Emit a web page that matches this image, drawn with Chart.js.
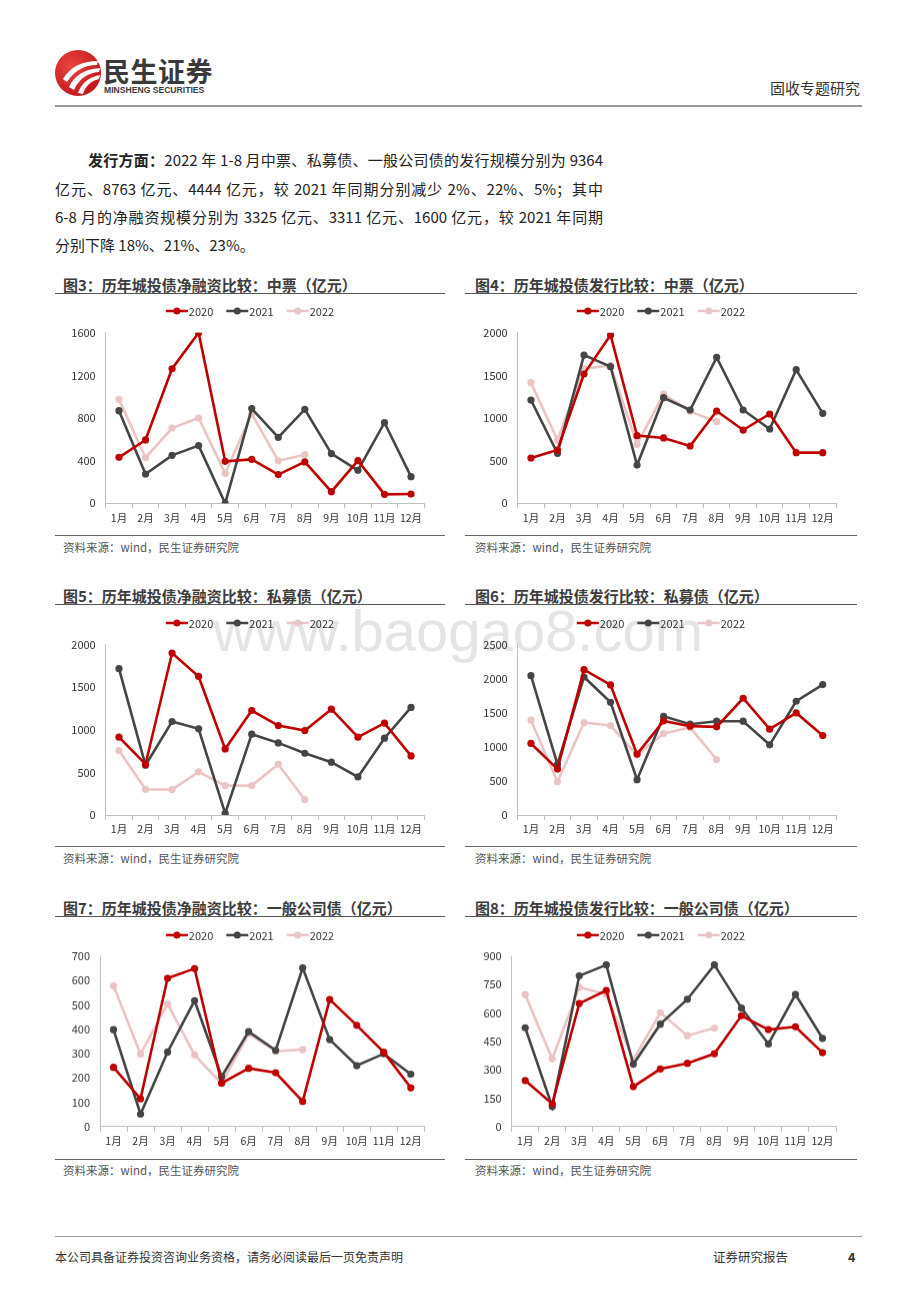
<!DOCTYPE html>
<html><head><meta charset="utf-8">
<script src="https://cdn.jsdelivr.net/npm/chart.js@4.4.1/dist/chart.umd.min.js"></script>
<style>
html,body{margin:0;padding:0;background:#fff;}
body{width:920px;height:1302px;position:relative;overflow:hidden;font-family:"Noto Sans CJK SC","Noto Sans",sans-serif;color:#333;}
.a{position:absolute;white-space:nowrap;}
.para{position:absolute;font-size:15px;line-height:20px;color:#222;white-space:nowrap;}
.just{text-align:justify;text-align-last:justify;}
.ttl{position:absolute;font-size:15px;font-weight:bold;color:#3c3c3c;line-height:20px;white-space:nowrap;}
.src{position:absolute;font-size:11.5px;color:#555;line-height:14px;white-space:nowrap;}
.hl{position:absolute;height:0;}
canvas{position:absolute;}
</style></head>
<body>
<script>
// ---------- DATA ----------
const months = ['1月','2月','3月','4月','5月','6月','7月','8月','9月','10月','11月','12月'];
const years = ['2020','2021','2022'];

const mtnNet2020 = [431, 594, 1262, 1600, 394, 412, 269, 388, 109, 400, 84, 87];
const mtnNet2021 = [869, 275, 450, 541, 0, 888, 619, 881, 466, 309, 756, 250];
const mtnNet2022 = [975, 428, 706, 800, 281, 838, 400, 456];
const mtnNetTicks = [0, 400, 800, 1200, 1600];

const mtnIss2020 = [531, 625, 1516, 1973, 793, 766, 672, 1082, 859, 1047, 594, 594];
const mtnIss2021 = [1211, 586, 1738, 1602, 449, 1238, 1094, 1711, 1094, 871, 1566, 1055];
const mtnIss2022 = [1414, 742, 1578, 1617, 691, 1281, 1078, 957];
const mtnIssTicks = [0, 500, 1000, 1500, 2000];

const ppnNet2020 = [914, 596, 1902, 1627, 776, 1227, 1051, 992, 1243, 914, 1078, 694];
const ppnNet2021 = [1718, 584, 1098, 1012, 20, 949, 847, 725, 620, 447, 902, 1263];
const ppnNet2022 = [757, 302, 298, 506, 345, 345, 596, 180];
const ppnNetTicks = [0, 500, 1000, 1500, 2000];

const ppnIss2020 = [1050, 674, 2134, 1909, 894, 1382, 1304, 1294, 1714, 1260, 1499, 1167];
const ppnIss2021 = [2046, 742, 2026, 1655, 518, 1450, 1333, 1377, 1377, 1030, 1670, 1914];
const ppnIss2022 = [1392, 488, 1357, 1313, 879, 1196, 1284, 815];
const ppnIssTicks = [0, 500, 1000, 1500, 2000, 2500];

const corpNet2020 = [243, 114, 609, 649, 178, 239, 221, 103, 522, 416, 305, 159];
const corpNet2021 = [398, 51, 306, 517, 205, 390, 313, 652, 357, 250, 299, 215];
const corpNet2022 = [578, 298, 504, 294, 177, 382, 309, 316];
const corpNetTicks = [0, 100, 200, 300, 400, 500, 600, 700];

const corpIss2020 = [243, 120, 650, 719, 211, 304, 334, 385, 585, 512, 527, 390];
const corpIss2021 = [522, 105, 796, 854, 329, 541, 672, 854, 626, 436, 698, 466];
const corpIss2022 = [696, 357, 735, 698, 352, 601, 480, 520];
const corpIssTicks = [0, 150, 300, 450, 600, 750, 900];

const titles = [
  '图3：历年城投债净融资比较：中票（亿元）',
  '图4：历年城投债发行比较：中票（亿元）',
  '图5：历年城投债净融资比较：私募债（亿元）',
  '图6：历年城投债发行比较：私募债（亿元）',
  '图7：历年城投债净融资比较：一般公司债（亿元）',
  '图8：历年城投债发行比较：一般公司债（亿元）'
];
const sourceText = '资料来源：wind，民生证券研究院';
</script>

<!-- header -->
<svg class="a" style="left:54px;top:49px" width="50" height="50" viewBox="0 0 50 50">
  <defs><radialGradient id="lg" cx="35%" cy="35%" r="70%"><stop offset="0" stop-color="#e8443f"/><stop offset="1" stop-color="#c4161c"/></radialGradient></defs>
  <circle cx="24" cy="24" r="23" fill="url(#lg)"/>
  <path d="M9 30 C 16 18, 28 12, 44 12 L 43 16 C 30 16, 20 22, 13 33 Z" fill="#fff"/>
  <path d="M15 38 C 20 27, 30 20, 46 19 L 45 23 C 33 24, 25 30, 20 41 Z" fill="#fff"/>
  <path d="M24 44 C 27 35, 34 28, 46 26 L 45 30 C 36 32, 31 38, 29 45 Z" fill="#fff"/>
</svg>
<div class="a" style="left:103px;top:54px;font-size:27px;font-weight:bold;color:#3a3a3a;line-height:34px;letter-spacing:0.5px">民生证券</div>
<div class="a" style="left:104px;top:84px;font-family:'Liberation Sans',Arial,sans-serif;font-size:8.6px;font-weight:bold;color:#3a3a3a;line-height:12px;">MINSHENG SECURITIES</div>
<div class="a" style="left:770px;top:78px;font-size:15px;color:#333;line-height:20px">固收专题研究</div>
<div class="hl" style="left:55px;top:105px;width:807px;border-top:2px solid #999"></div>

<!-- paragraph -->
<div class="para just" style="left:88px;top:150px;width:515px"><b>发行方面：</b>2022 年 1-8 月中票、私募债、一般公司债的发行规模分别为 9364</div>
<div class="para just" style="left:55px;top:179px;width:548px">亿元、8763 亿元、4444 亿元，较 2021 年同期分别减少 2%、22%、5%；其中</div>
<div class="para just" style="left:55px;top:207px;width:548px">6-8 月的净融资规模分别为 3325 亿元、3311 亿元、1600 亿元，较 2021 年同期</div>
<div class="para" style="left:55px;top:235px;">分别下降 18%、21%、23%。</div>

<!-- watermark -->
<div class="a" style="left:213px;top:598px;font-family:'Liberation Sans',Arial,sans-serif;font-size:58px;color:#e4e4e4;line-height:66px;">www.baogao8.com</div>

<!-- footer -->
<div class="hl" style="left:55px;top:1236px;width:807px;border-top:1.5px solid #999"></div>
<div class="a" style="left:55px;top:1249px;font-size:12px;color:#333;line-height:16px">本公司具备证券投资咨询业务资格，请务必阅读最后一页免责声明</div>
<div class="a" style="left:713px;top:1249px;font-size:12.5px;color:#333;line-height:16px">证券研究报告</div>
<div class="a" style="left:848px;top:1249px;font-size:12.5px;font-weight:bold;color:#333;line-height:16px">4</div>

<script>
const COLORS = ['#c00000', '#454545', '#ebc4c4'];
const FONT = '"Noto Sans CJK SC","Noto Sans",sans-serif';

const rows = [
  {title:285, tline:294, legend:311, top:332.7, bottom:503.3, sline:536, stext:547},
  {title:596, tline:605, legend:623, top:644.7, bottom:815, sline:847, stext:858},
  {title:908, tline:917, legend:935, top:956, bottom:1126.3, sline:1159.7, stext:1170}
];
const cols = [
  {cl:55, cr:445, tx:63},
  {cl:465, cr:857, tx:475}
];
const charts = [
  {row:0,col:0, pl:105.7, pr:424.3, s:[mtnNet2020, mtnNet2021, mtnNet2022], ticks:mtnNetTicks},
  {row:0,col:1, pl:517.7, pr:836,   s:[mtnIss2020, mtnIss2021, mtnIss2022], ticks:mtnIssTicks},
  {row:1,col:0, pl:105.7, pr:424.3, s:[ppnNet2020, ppnNet2021, ppnNet2022], ticks:ppnNetTicks},
  {row:1,col:1, pl:517.7, pr:836,   s:[ppnIss2020, ppnIss2021, ppnIss2022], ticks:ppnIssTicks},
  {row:2,col:0, pl:100,   pr:424.3, s:[corpNet2020, corpNet2021, corpNet2022], ticks:corpNetTicks},
  {row:2,col:1, pl:511.7, pr:836,   s:[corpIss2020, corpIss2021, corpIss2022], ticks:corpIssTicks}
];

const legendPlugin = {
  id: 'lineDotLegend',
  afterDraw(chart, args, opts) {
    const ctx = chart.ctx;
    const ds = chart.data.datasets;
    ctx.save();
    ctx.font = '11px ' + FONT;
    const lineW = 22, textGap = 1, itemGap = 13;
    const widths = ds.map(d => lineW + textGap + ctx.measureText(d.label).width);
    const total = widths.reduce((a, b) => a + b, 0) + itemGap * (ds.length - 1);
    let x = (chart.width - total) / 2;
    const y = opts.y;
    ds.forEach((d, i) => {
      ctx.strokeStyle = d.borderColor;
      ctx.lineWidth = 2.5;
      ctx.beginPath(); ctx.moveTo(x, y); ctx.lineTo(x + lineW, y); ctx.stroke();
      ctx.fillStyle = d.borderColor;
      ctx.beginPath(); ctx.arc(x + lineW / 2, y, 3.5, 0, Math.PI * 2); ctx.fill();
      ctx.fillStyle = '#333';
      ctx.textBaseline = 'middle';
      ctx.textAlign = 'left';
      ctx.fillText(d.label, x + lineW + textGap, y + 0.5);
      x += widths[i] + itemGap;
    });
    ctx.restore();
  }
};

charts.forEach((c, idx) => {
  const r = rows[c.row], col = cols[c.col];
  const t = document.createElement('div');
  t.className = 'ttl'; t.textContent = titles[idx];
  t.style.left = col.tx + 'px'; t.style.top = (r.title - 10) + 'px';
  document.body.appendChild(t);
  const l1 = document.createElement('div');
  l1.className = 'hl'; l1.style.left = col.cl + 'px'; l1.style.width = (col.cr - col.cl) + 'px';
  l1.style.top = (r.tline - 0.75) + 'px'; l1.style.borderTop = '1.5px solid #555';
  document.body.appendChild(l1);
  const l2 = document.createElement('div');
  l2.className = 'hl'; l2.style.left = col.cl + 'px'; l2.style.width = (col.cr - col.cl) + 'px';
  l2.style.top = (r.sline - 0.75) + 'px'; l2.style.borderTop = '1.5px solid #666';
  document.body.appendChild(l2);
  const s = document.createElement('div');
  s.className = 'src'; s.textContent = sourceText;
  s.style.left = col.tx + 'px'; s.style.top = (r.stext - 7) + 'px';
  document.body.appendChild(s);

  const ct = r.tline + 2, cb = r.sline - 2;
  const cv = document.createElement('canvas');
  const W = col.cr - col.cl, H = cb - ct;
  cv.width = W; cv.height = H;
  cv.style.left = col.cl + 'px'; cv.style.top = ct + 'px';
  cv.style.width = W + 'px'; cv.style.height = H + 'px';
  document.body.appendChild(cv);

  const yW = c.pl - col.cl;
  const xH = cb - r.bottom;
  const tk = c.ticks;
  new Chart(cv, {
    type: 'line',
    data: {
      labels: months,
      datasets: c.s.map((arr, i) => ({
        label: years[i], data: arr,
        borderColor: COLORS[i], backgroundColor: COLORS[i],
        pointBackgroundColor: COLORS[i], pointBorderColor: COLORS[i],
        borderWidth: 2.6, pointRadius: 3.6, pointBorderWidth: 0, tension: 0, fill: false
      }))
    },
    options: {
      responsive: false, animation: false, devicePixelRatio: 1,
      layout: { padding: { left: 0, right: col.cr - c.pr, top: r.top - ct, bottom: 0 } },
      plugins: { legend: { display: false }, tooltip: { enabled: false }, lineDotLegend: { y: r.legend - ct } },
      scales: {
        x: {
          offset: true,
          grid: { display: true, offset: true, drawOnChartArea: false, drawTicks: true, tickLength: 5, color: '#bfbfbf', lineWidth: 1 },
          border: { display: true, color: '#bfbfbf', width: 1 },
          ticks: { color: '#333', font: { size: 10.5, family: FONT }, padding: 3, maxRotation: 0, autoSkip: false },
          afterFit(scale) { scale.height = xH; }
        },
        y: {
          min: tk[0], max: tk[tk.length - 1],
          afterBuildTicks(scale) { scale.ticks = tk.map(v => ({ value: v })); },
          grid: { display: false, drawTicks: false },
          border: { display: true, color: '#bfbfbf', width: 1 },
          ticks: { color: '#333', font: { size: 11, family: FONT }, padding: 10, callback: v => String(v) },
          afterFit(scale) { scale.width = yW; }
        }
      }
    },
    plugins: [legendPlugin]
  });
});
</script>
</body></html>
